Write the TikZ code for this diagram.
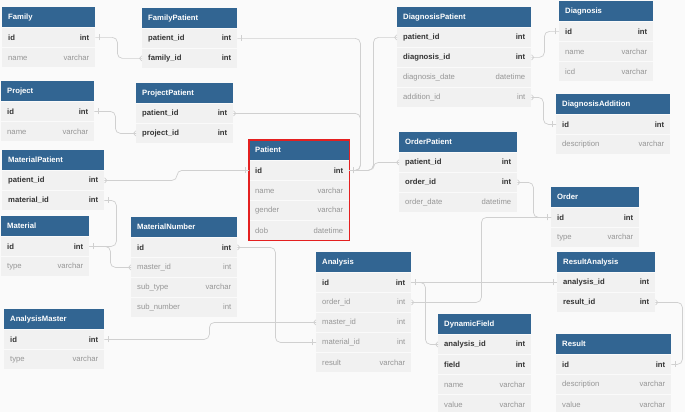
\documentclass[tikz,border=0pt]{standalone}
\usepackage{fontspec}
\setmainfont{Liberation Sans}
\usetikzlibrary{positioning,decorations.markings}
\definecolor{headblue}{RGB}{50,101,146}
\definecolor{bodygray}{RGB}{241,241,241}
\definecolor{backgray}{RGB}{250,250,250}
\definecolor{keytext}{RGB}{51,51,51}
\definecolor{softtext}{RGB}{150,150,150}
\definecolor{linkgray}{RGB}{208,208,208}
\definecolor{markred}{RGB}{228,32,32}
\tikzset{
    tabhead/.style={
           fill=headblue, text=white,
           font=\fontsize{7.7}{9}\selectfont\bfseries,
           minimum height=20pt, inner xsep=6pt, inner ysep=0pt},
    keyfld/.style={
           fill=bodygray, text=keytext,
           font=\fontsize{7.7}{9}\selectfont\bfseries,
           minimum height=19.6pt, inner xsep=6pt, inner ysep=0pt},
    fld/.style={
           keyfld, text=softtext,
           font=\fontsize{7.7}{9}\selectfont},
    link/.style={
           draw=linkgray, line width=0.7pt,
           rounded corners=5pt},
    onestart/.style={postaction={decorate,decoration={markings,
           mark=at position 4pt with {\draw[linkgray,line width=0.7pt] (0,-3pt) -- (0,3pt);}}}},
    oneend/.style={postaction={decorate,decoration={markings,
           mark=at position -4pt with {\draw[linkgray,line width=0.7pt] (0,-3pt) -- (0,3pt);}}}},
    manystart/.style={postaction={decorate,decoration={markings,
           mark=at position 5pt with {\draw[linkgray,line width=0.7pt] (-5pt,2.5pt) -- (0,0) -- (-5pt,-2.5pt);}}}},
    manyend/.style={postaction={decorate,decoration={markings,
           mark=at position -5pt with {\draw[linkgray,line width=0.7pt] (5pt,2.5pt) -- (0,0) -- (5pt,-2.5pt);}}}}
}
% #1 name, #2 top left corner, #3 width, #4 title, #5 fields
\newcommand{\erdtab}[5]{%
  \pgfmathsetmacro\colw{#3-12}
  \node[tabhead, text width=\colw pt, anchor=north west] (#1-head) at (#2) {#4};
  \foreach \fn/\ty/\st [remember=\fn as \last (initially head)] in {#5}
    \node[\st, text width=\colw pt, below=0pt of #1-\last] (#1-\fn)
      {\expandafter\detokenize\expandafter{\fn}\hfill\ty};
}

\begin{document}
\begin{tikzpicture}[x=1pt, y=-1pt]
    \path[use as bounding box, fill=backgray] (0,0) rectangle (685,412);

    \erdtab{Family}{2,7}{93}{Family}{id/int/keyfld, name/varchar/fld}
    \erdtab{FamilyPatient}{142,8}{95}{FamilyPatient}{patient_id/int/keyfld, family_id/int/keyfld}
    \erdtab{Project}{1,81}{93}{Project}{id/int/keyfld, name/varchar/fld}
    \erdtab{ProjectPatient}{136,83}{97}{ProjectPatient}{patient_id/int/keyfld, project_id/int/keyfld}
    \erdtab{DiagnosisPatient}{397,7}{134}{DiagnosisPatient}{patient_id/int/keyfld, diagnosis_id/int/keyfld,
        diagnosis_date/datetime/fld, addition_id/int/fld}
    \erdtab{Diagnosis}{559,1}{94}{Diagnosis}{id/int/keyfld, name/varchar/fld, icd/varchar/fld}
    \erdtab{DiagnosisAddition}{556,94}{114}{DiagnosisAddition}{id/int/keyfld, description/varchar/fld}
    \erdtab{OrderPatient}{399,132}{118}{OrderPatient}{patient_id/int/keyfld, order_id/int/keyfld,
        order_date/datetime/fld}
    \erdtab{Patient}{249,140}{100}{Patient}{id/int/keyfld, name/varchar/fld, gender/varchar/fld,
        dob/datetime/fld}
    \erdtab{MaterialPatient}{2,150}{102}{MaterialPatient}{patient_id/int/keyfld, material_id/int/keyfld}
    \erdtab{Material}{1,216}{88}{Material}{id/int/keyfld, type/varchar/fld}
    \erdtab{MaterialNumber}{131,217}{106}{MaterialNumber}{id/int/keyfld, master_id/int/fld,
        sub_type/varchar/fld, sub_number/int/fld}
    \erdtab{AnalysisMaster}{4,309}{100}{AnalysisMaster}{id/int/keyfld, type/varchar/fld}
    \erdtab{Analysis}{316,252}{95}{Analysis}{id/int/keyfld, order_id/int/fld, master_id/int/fld,
        material_id/int/fld, result/varchar/fld}
    \erdtab{DynamicField}{438,314}{93}{DynamicField}{analysis_id/int/keyfld, field/int/keyfld,
        name/varchar/fld, value/varchar/fld}
    \erdtab{Order}{551,187}{88}{Order}{id/int/keyfld, type/varchar/fld}
    \erdtab{ResultAnalysis}{557,252}{98}{ResultAnalysis}{analysis_id/int/keyfld, result_id/int/keyfld}
    \erdtab{Result}{556,334}{115}{Result}{id/int/keyfld, description/varchar/fld, value/varchar/fld}

    \draw[markred, line width=1.3pt] (Patient-head.north west) rectangle (Patient-dob.south east);

    % relations
    \draw[link, onestart, manyend] (Family-id.east) -- ++(22,0) |- (FamilyPatient-family_id.west);
    \draw[link, onestart, manyend] (Project-id.east) -- ++(21,0) |- (ProjectPatient-project_id.west);
    \draw[link, onestart, oneend] (Patient-id.east) -- ++(11,0) |- (FamilyPatient-patient_id.east);
    \draw[link, onestart, manyend] (Patient-id.east) -- ++(11,0) |- (ProjectPatient-patient_id.east);
    \draw[link, manyend] (Patient-id.east) -- ++(24,0) |- (DiagnosisPatient-patient_id.west);
    \draw[link, manyend] (Patient-id.east) -- ++(24,0) |- (OrderPatient-patient_id.west);
    \draw[link, onestart, manyend] (Patient-id.west) -- ++(-72,0) |- (MaterialPatient-patient_id.east);
    \draw[link, onestart, oneend] (Material-id.east) -- ++(27,0) |- (MaterialPatient-material_id.east);
    \draw[link, manyend] (Material-id.east) -- ++(21,0) |- (MaterialNumber-master_id.west);
    \draw[link, manystart, oneend] (MaterialNumber-id.east) -- ++(38,0) |- (Analysis-material_id.west);
    \draw[link, onestart, manyend] (AnalysisMaster-id.east) -- ++(105,0) |- (Analysis-master_id.west);
    \draw[link, manystart, oneend] (Analysis-order_id.east) -- ++(70,0) |- (Order-id.west);
    \draw[link, manystart, oneend] (OrderPatient-order_id.east) -- ++(16,0) |- (Order-id.west);
    \draw[link, onestart, oneend] (Analysis-id.east) -- (ResultAnalysis-analysis_id.west);
    \draw[link, manyend] (Analysis-id.east) -- ++(14,0) |- (DynamicField-analysis_id.west);
    \draw[link, manystart, oneend] (ResultAnalysis-result_id.east) -- ++(27,0) |- (Result-id.east);
    \draw[link, manystart, oneend] (DiagnosisPatient-diagnosis_id.east) -- ++(13,0) |- (Diagnosis-id.west);
    \draw[link, manystart, oneend] (DiagnosisPatient-addition_id.east) -- ++(12,0) |- (DiagnosisAddition-id.west);
\end{tikzpicture}
\end{document}
